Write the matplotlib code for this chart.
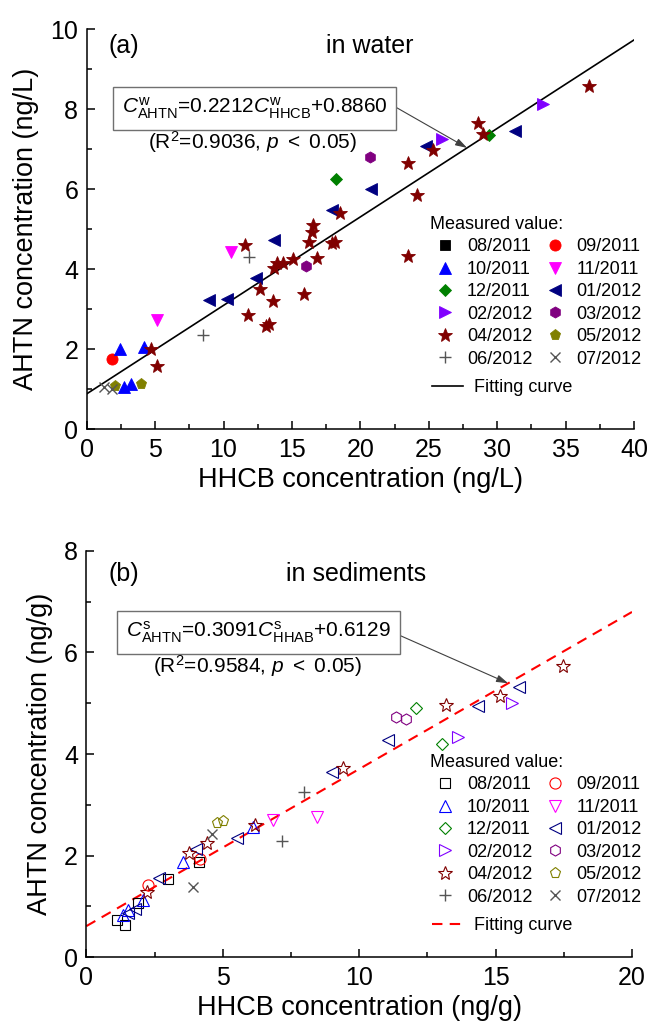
import matplotlib
matplotlib.use('Agg')
import matplotlib.pyplot as plt
import numpy as np
from matplotlib.lines import Line2D
from matplotlib.ticker import MultipleLocator

plt.rcParams['font.family'] = ['Liberation Sans', 'DejaVu Sans']
plt.rcParams['mathtext.fontset'] = 'custom'
plt.rcParams['mathtext.rm'] = 'Liberation Sans'
plt.rcParams['mathtext.it'] = 'Liberation Sans:italic'
plt.rcParams['mathtext.bf'] = 'Liberation Sans:bold'

# ---------------- data ----------------
months = ['08/2011', '09/2011', '10/2011', '11/2011', '12/2011', '01/2012',
          '02/2012', '03/2012', '04/2012', '05/2012', '06/2012', '07/2012']

water_hhcb = [
    [],
    [1.87],
    [2.43, 4.21, 2.75, 3.22],
    [5.12, 10.53],
    [18.2, 29.43],
    [8.96, 10.23, 12.38, 13.71, 17.91, 20.76, 24.8, 31.31],
    [25.95, 33.33],
    [16.03, 20.71],
    [4.70, 5.16, 11.77, 13.11, 13.35, 13.62, 11.57, 12.67, 13.69, 13.89, 14.37,
     15.1, 15.88, 16.81, 16.27, 16.49, 16.56, 17.95, 18.15, 18.52, 23.46, 24.12,
     23.46, 25.34, 28.63, 28.95, 36.72],
    [2.07, 3.95],
    [8.52, 11.89],
    [1.26, 1.87],
]
water_ahtn = [
    [],
    [1.76],
    [2.00, 2.07, 1.05, 1.13],
    [2.73, 4.44],
    [6.26, 7.36],
    [3.23, 3.27, 3.78, 4.73, 5.48, 6.00, 7.07, 7.46],
    [7.26, 8.13],
    [4.09, 6.80],
    [2.00, 1.58, 2.86, 2.58, 2.63, 3.21, 4.61, 3.50, 4.03, 4.17, 4.15,
     4.26, 3.38, 4.28, 4.69, 4.94, 5.11, 4.65, 4.68, 5.42, 6.65, 5.86,
     4.34, 6.98, 7.65, 7.38, 8.57],
    [1.08, 1.13],
    [2.36, 4.30],
    [1.07, 1.00],
]

sed_hhcb = [
    [1.11, 1.42, 1.88, 2.98, 4.13],
    [2.27, 4.16],
    [1.36, 1.54, 2.09, 3.53, 6.10],
    [6.84, 8.47],
    [12.08, 13.05],
    [1.52, 1.78, 2.66, 4.02, 5.51, 8.99, 11.06, 14.36, 15.86],
    [13.63, 15.62],
    [11.34, 11.71],
    [2.23, 3.77, 4.43, 6.20, 9.41, 13.2, 15.17, 17.47],
    [4.78, 5.02],
    [7.19, 7.97],
    [3.90, 4.62],
]
sed_ahtn = [
    [0.73, 0.64, 1.07, 1.55, 1.87],
    [1.42, 1.93],
    [0.83, 0.93, 1.13, 1.88, 2.56],
    [2.70, 2.77],
    [4.91, 4.19],
    [0.88, 0.96, 1.57, 2.14, 2.35, 3.64, 4.28, 4.95, 5.32],
    [4.34, 5.01],
    [4.73, 4.68],
    [1.29, 2.06, 2.24, 2.60, 3.72, 4.96, 5.14, 5.73],
    [2.65, 2.68],
    [2.29, 3.26],
    [1.38, 2.42],
]

fit_slope = [0.2212, 0.3091]
fit_intercept = [0.8860, 0.6129]
fit_r2 = [0.9036, 0.9584]

# ---------------- styles ----------------
markers = ['s', 'o', '^', 'v', 'D', '<', '>', 'h', '*', 'p', '+', 'x']
colors = ['#000000', '#ff0000', '#0000ff', '#ff00ff', '#008000', '#000080',
          '#8000ff', '#800080', '#800000', '#808000', '#555555', '#555555']
sizes = [7, 8, 8, 8, 6.5, 8, 8, 8, 10, 8, 8, 7]

W, H = 650, 1027
fig = plt.figure(figsize=(W / 100, H / 100), dpi=100)


def fpx(x, y):
    return (x / W, 1 - y / H)


def make_axes(l, r, t, b):
    ax = fig.add_axes([l / W, 1 - b / H, (r - l) / W, (b - t) / H])
    for s in ['top', 'right']:
        ax.spines[s].set_visible(False)
    for s in ['left', 'bottom']:
        ax.spines[s].set_linewidth(1.1)
    ax.tick_params(which='both', direction='in', width=1.1, labelsize=18)
    ax.tick_params(which='major', length=6)
    ax.tick_params(which='minor', length=3.5)
    ax.tick_params(axis='x', pad=6)
    ax.tick_params(axis='y', pad=6)
    return ax


lab_fs = 19.5
leg_fs = 13
ann_fs = 15

panels = [
    dict(box=(86.7, 634, 29.3, 429.3), xmax=40, ymax=10, xmaj=5, ymaj=2,
         xs=water_hhcb, ys=water_ahtn, filled=True, unit='ng/L',
         tag='(a)', title='in water', sup='w', hh='HHCB',
         tagpos=(124, 46), titlepos=(370, 46),
         boxc=(254.5, 108.3), r2c=(253, 142), arrow_from=(396.7, 107.7), arrow_x=27.8,
         leg_top=(430, 216), fit_top=(432, 379),
         line=dict(color='black', lw=1.2, ls='-')),
    dict(box=(86.3, 632, 550.7, 957.3), xmax=20, ymax=8, xmaj=5, ymaj=2,
         xs=sed_hhcb, ys=sed_ahtn, filled=False, unit='ng/g',
         tag='(b)', title='in sediments', sup='s', hh='HHAB',
         tagpos=(124, 574), titlepos=(356, 574),
         boxc=(258.5, 632), r2c=(258, 666), arrow_from=(395, 633.3), arrow_x=15.46,
         leg_top=(430, 754), fit_top=(432, 917),
         line=dict(color='#ff0000', lw=1.5, ls=(0, (5, 3.5)))),
]

leg_order = [0, 2, 4, 6, 8, 10, 1, 3, 5, 7, 9, 11]

for k, p in enumerate(panels):
    l, r, t, b = p['box']
    ax = make_axes(l, r, t, b)
    ax.set_xlim(0, p['xmax'])
    ax.set_ylim(0, p['ymax'])
    ax.xaxis.set_major_locator(MultipleLocator(p['xmaj']))
    ax.xaxis.set_minor_locator(MultipleLocator(p['xmaj'] / 2))
    ax.yaxis.set_major_locator(MultipleLocator(p['ymaj']))
    ax.yaxis.set_minor_locator(MultipleLocator(p['ymaj'] / 2))

    handles = []
    for i, m in enumerate(months):
        mk = markers[i]
        c = colors[i]
        if p['filled'] or mk in ('+', 'x'):
            kw = dict(marker=mk, color=c, markerfacecolor=c, markeredgecolor=c,
                      markersize=sizes[i], markeredgewidth=1.0 if mk in ('+', 'x') else 0.6,
                      linestyle='none')
        else:
            kw = dict(marker=mk, color=c, markerfacecolor='none', markeredgecolor=c,
                      markersize=sizes[i], markeredgewidth=0.8, linestyle='none')
        ax.plot(p['xs'][i], p['ys'][i], **kw, zorder=3)
        handles.append(Line2D([], [], **kw))

    xx = np.array([0, p['xmax']])
    ln = p['line']
    ax.plot(xx, fit_slope[k] * xx + fit_intercept[k], color=ln['color'],
            lw=ln['lw'], linestyle=ln['ls'], zorder=2)
    fit_handle = Line2D([], [], color=ln['color'], lw=ln['lw'], linestyle=ln['ls'])

    ax.set_xlabel('HHCB concentration (%s)' % p['unit'], fontsize=lab_fs, labelpad=4)
    ax.set_ylabel('AHTN concentration (%s)' % p['unit'], fontsize=lab_fs, labelpad=8)

    fig.text(*fpx(*p['tagpos']), p['tag'], fontsize=18, ha='center', va='center')
    fig.text(*fpx(*p['titlepos']), p['title'], fontsize=18, ha='center', va='center')

    sup = p['sup']
    eq = (r'$C^{\mathrm{%s}}_{\mathrm{AHTN}}$=%.4f$C^{\mathrm{%s}}_{\mathrm{%s}}$+%.4f'
          % (sup, fit_slope[k], sup, p['hh'], fit_intercept[k]))
    fig.text(*fpx(*p['boxc']), eq, fontsize=ann_fs, ha='center', va='center',
             bbox=dict(boxstyle='square,pad=0.42', fc='white', ec='#707070', lw=1.0))
    fig.text(*fpx(*p['r2c']), r'(R$^{2}$=%.4f, $p$ $<$ 0.05)' % fit_r2[k],
             fontsize=ann_fs, ha='center', va='center')

    ax_tip = p['arrow_x']
    y_tip = fit_slope[k] * ax_tip + fit_intercept[k]
    ax.annotate('', xy=(ax_tip, y_tip), xycoords='data',
                xytext=fpx(*p['arrow_from']), textcoords='figure fraction',
                arrowprops=dict(arrowstyle='-|>,head_length=0.7,head_width=0.22',
                                color='#404040', lw=0.8, shrinkA=0, shrinkB=0))

    leg1 = ax.legend([handles[j] for j in leg_order], [months[j] for j in leg_order],
                     ncol=2, loc='upper left',
                     bbox_to_anchor=fpx(*p['leg_top']), bbox_transform=fig.transFigure,
                     frameon=False, fontsize=leg_fs, title='Measured value:',
                     title_fontsize=leg_fs, alignment='left', borderpad=0,
                     borderaxespad=0, handlelength=1.7, handletextpad=0.35,
                     columnspacing=0.4, labelspacing=0.3)
    ax.add_artist(leg1)
    ax.legend([fit_handle], ['Fitting curve'], loc='upper left',
              bbox_to_anchor=fpx(*p['fit_top']), bbox_transform=fig.transFigure,
              frameon=False, fontsize=leg_fs, borderpad=0, borderaxespad=0,
              handlelength=1.7, handletextpad=0.6)

fig.savefig('out.png', dpi=100)
